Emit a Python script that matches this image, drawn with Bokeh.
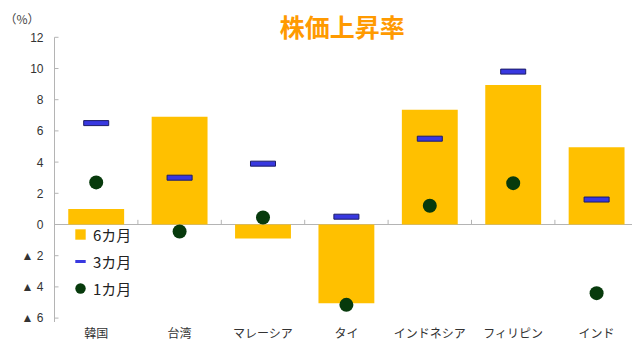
from bokeh.plotting import figure
from bokeh.models import Range1d, Label, Legend, LegendItem
from bokeh.core.properties import value
from bokeh.embed import file_html
from bokeh.resources import INLINE

categories = ["韓国", "台湾", "マレーシア", "タイ", "インドネシア", "フィリピン", "インド"]
six_month = [1.0, 6.9, -0.9, -5.05, 7.35, 8.95, 4.95]
three_month = [6.5, 3.0, 3.9, 0.5, 5.5, 9.8, 1.6]
one_month = [2.7, -0.45, 0.45, -5.15, 1.2, 2.65, -4.4]
y_ticks = [12, 10, 8, 6, 4, 2, 0, -2, -4, -6]
y_tick_labels = ["12", "10", "8", "6", "4", "2", "0", "▲ 2", "▲ 4", "▲ 6"]
series_names = ["6カ月", "3カ月", "1カ月"]
title_text = "株価上昇率"
unit_text = "（%）"

BAR = "#FFC000"
BLUE = "#3838e0"
BLUE_EDGE = "#1c1c66"
GREEN = "#073a0c"
AXIS = "#b4b4b4"
JP = "Noto Sans CJK JP"

n = len(categories)
xs = [i + 0.5 for i in range(n)]
px_x = 83.4   # pixels per category
px_y = 15.6   # pixels per percent
W, H = 632, 342

p = figure(width=W, height=H, output_backend="svg", toolbar_location=None,
           x_range=Range1d(-54 / px_x, (W - 54) / px_x),
           y_range=Range1d(-(H - 224) / px_y, 224 / px_y),
           x_axis_location=None, y_axis_location=None,
           min_border_left=0, min_border_right=0, min_border_top=0,
           min_border_bottom=0)
p.outline_line_color = None
p.xgrid.visible = False
p.ygrid.visible = False

# y axis drawn at x = 0
m = len(y_ticks)
p.segment(x0=[0], y0=[min(y_ticks) - 0.25], x1=[0], y1=[max(y_ticks)], line_color=AXIS)
p.ray(x=[0] * m, y=y_ticks, length=4, length_units="screen", angle=0, line_color=AXIS)
p.text(x=[0] * m, y=y_ticks, text=y_tick_labels, x_offset=-11, text_align="right",
       text_baseline="middle", text_font=value("Liberation Sans"),
       text_font_size="12px", text_color="#333333")

# category labels under the lowest tick
p.text(x=xs, y=[min(y_ticks)] * n, text=categories, y_offset=14, text_align="center",
       text_baseline="middle", text_font=value(JP), text_font_size="12px",
       text_color="#333333")

# zero line and category separators
p.segment(x0=[0], y0=[0], x1=[n], y1=[0], line_color=AXIS)
bx = list(range(1, n))
p.segment(x0=bx, y0=[0] * len(bx), x1=bx, y1=[0.3] * len(bx), line_color=AXIS)

r_bar = p.vbar(x=xs, top=six_month, bottom=0, width=0.67, fill_color=BAR, line_color=None)
r_dash = p.rect(x=xs, y=three_month, width=0.3, height=5, height_units="screen",
                fill_color=BLUE, line_color=BLUE_EDGE, line_width=1)
r_dot = p.scatter(x=xs, y=one_month, marker="circle", size=14, fill_color=GREEN,
                  line_color=None)

# legend proxies (hidden in plot, drawn only in legend)
lg_bar = p.scatter(x=xs, y=six_month, marker="square", fill_color=BAR, line_color=None)
lg_dash = p.scatter(x=xs, y=three_month, marker="dash", line_color=BLUE, line_width=3)
lg_dot = p.scatter(x=xs, y=one_month, marker="circle", fill_color=GREEN, line_color=None)
for r in (lg_bar, lg_dash, lg_dot):
    r.visible = False

legend = Legend(items=[LegendItem(label=series_names[0], renderers=[lg_bar]),
                       LegendItem(label=series_names[1], renderers=[lg_dash]),
                       LegendItem(label=series_names[2], renderers=[lg_dot])],
                location=(67, 41), glyph_width=26, glyph_height=26, spacing=1,
                padding=4, label_standoff=-4, label_text_font=JP,
                label_text_font_size="15px", label_text_color="#222222",
                background_fill_alpha=0, border_line_color=None)
p.add_layout(legend)

p.add_layout(Label(x=3.45, y=12.75, text=title_text, text_font=JP,
                   text_font_size="25px", text_font_style="bold",
                   text_color="#FF9A00", text_align="center", text_baseline="middle"))
p.add_layout(Label(x=-0.39, y=13.2, text=unit_text, text_font=JP,
                   text_font_size="12px", text_color="#444444",
                   text_align="center", text_baseline="middle"))

open("out.html", "w").write(file_html(p, INLINE))
